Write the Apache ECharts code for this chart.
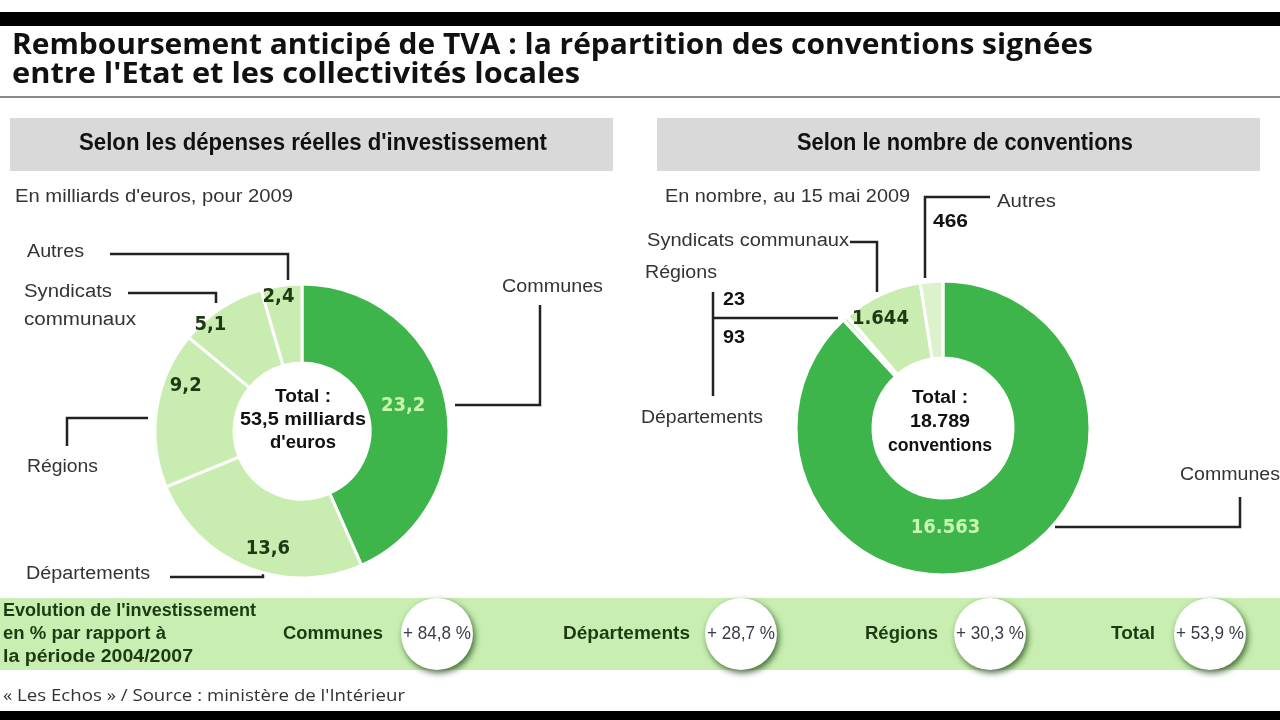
<!DOCTYPE html>
<html>
<head>
<meta charset="utf-8">
<script src="https://cdn.jsdelivr.net/npm/echarts@6/dist/echarts.min.js"></script>
<style>
html,body{margin:0;padding:0;background:#fff;}
#chart{width:1280px;height:720px;}
</style>
</head>
<body>
<div id="chart"></div>
<script>
// ---- data ----
var depCategories = ['Communes', 'Départements', 'Régions', 'Syndicats communaux', 'Autres'];
var depValues = [23.2, 13.6, 9.2, 5.1, 2.4];            // milliards d'euros, 2009
var convCategories = ['Communes', 'Départements', 'Régions', 'Syndicats communaux', 'Autres'];
var convValues = [16563, 93, 23, 1644, 466];            // nombre de conventions, 15 mai 2009
var evoCategories = ['Communes', 'Départements', 'Régions', 'Total'];
var evoValues = [84.8, 28.7, 30.3, 53.9];               // % vs 2004/2007

// ---- styles ----
var DARK = '#3db54a', LIGHT = '#c9ecb1', PALE = '#dcf2cd';
var SANS = "'Liberation Sans','Arial',sans-serif";
var COND = "'DejaVu Sans Condensed','Liberation Sans Narrow',sans-serif";
var HUMAN = "'Open Sans','Lato',sans-serif";
var LINE = '#222';

function fr1(v){ return v.toFixed(1).replace('.', ','); }
function frInt(v){ return String(v).replace(/\B(?=(\d{3})+(?!\d))/g, '.'); }
function sum(a){ return a.reduce(function(s,v){return s+v;},0); }

var mctx = document.createElement('canvas').getContext('2d');

var chart = echarts.init(document.getElementById('chart'), null, {renderer:'canvas'});

// text helper: o.w = target rendered width (px) -> horizontal scale
function txt(x,y,t,o){
  o = o || {};
  var font = (o.weight||'normal')+' '+(o.size||18)+'px '+(o.family||SANS);
  var sx = o.sx || 0.82;
  if(o.w){ mctx.font = font; sx = o.w / mctx.measureText(t).width; }
  return {type:'text', x:x, y:y, scaleX:sx, silent:true, style:{text:t, fill:o.fill||'#333',
    font:font, textAlign:o.align||'left', textVerticalAlign:'middle'}};
}
function pl(points){
  return {type:'polyline', silent:true, shape:{points:points}, style:{stroke:LINE, lineWidth:2.5, fill:null}};
}
var B = {weight:'bold', fill:'#111'};
function ext(a,b){ var r={}; for(var k in a) r[k]=a[k]; for(var k2 in b) r[k2]=b[k2]; return r; }

var g = [];
// frame bars
g.push({type:'rect', shape:{x:0,y:12,width:1280,height:14}, style:{fill:'#000'}});
g.push({type:'rect', shape:{x:0,y:711,width:1280,height:9}, style:{fill:'#000'}});
// title
g.push(txt(12,46,'Remboursement anticipé de TVA : la répartition des conventions signées',{weight:'bold',size:28,family:HUMAN,fill:'#111',w:1081}));
g.push(txt(12,75,"entre l'Etat et les collectivités locales",{weight:'bold',size:28,family:HUMAN,fill:'#111',w:568}));
g.push({type:'rect', shape:{x:0,y:96,width:1280,height:2}, style:{fill:'#8a8a8a'}});
// panel headers
g.push({type:'rect', shape:{x:10,y:118,width:603,height:53}, style:{fill:'#d9d9d9'}});
g.push({type:'rect', shape:{x:657,y:118,width:603,height:53}, style:{fill:'#d9d9d9'}});
g.push(txt(313,144,"Selon les dépenses réelles d'investissement",ext(B,{size:23,align:'center',w:468})));
g.push(txt(965,144,'Selon le nombre de conventions',ext(B,{size:23,align:'center',w:336})));
g.push(txt(15,197,"En milliards d'euros, pour 2009",{size:18,w:278}));
g.push(txt(665,197,'En nombre, au 15 mai 2009',{size:18,w:245}));

// left leader lines & names
g.push(pl([[110,254],[288,254],[288,280]]));
g.push(txt(27,252,depCategories[4],{w:57}));
g.push(pl([[128,293],[216,293],[216,303]]));
g.push(txt(24,292,'Syndicats',{w:88}));
g.push(txt(24,320,'communaux',{w:112}));
g.push(pl([[148,418],[67,418],[67,446]]));
g.push(txt(27,467,depCategories[2],{w:71}));
g.push(pl([[170,577],[263,577],[263,571]]));
g.push(txt(26,574,depCategories[1],{w:124}));
g.push(pl([[455,405],[540,405],[540,305]]));
g.push(txt(502,287,depCategories[0],{w:101}));
// left center total
g.push(txt(303,397,'Total :',ext(B,{align:'center',w:56})));
g.push(txt(303,420,fr1(sum(depValues))+' milliards',ext(B,{align:'center',w:126})));
g.push(txt(303,443,"d'euros",ext(B,{align:'center',w:66})));

// right leader lines & names
g.push(pl([[925,278],[925,197],[990,197]]));
g.push(txt(997,202,convCategories[4],{w:59}));
g.push(txt(933,222,frInt(convValues[4]),ext(B,{w:35})));
g.push(pl([[850,242],[877,242],[877,292]]));
g.push(txt(647,241,convCategories[3],{w:202}));
g.push(txt(645,273,convCategories[2],{w:72}));
g.push(txt(723,300,frInt(convValues[2]),ext(B,{w:22})));
g.push(txt(723,338,frInt(convValues[1]),ext(B,{w:22})));
g.push(pl([[713,292],[713,396]]));
g.push(pl([[713,318],[838,318]]));
g.push(txt(641,418,convCategories[1],{w:122}));
g.push(pl([[1055,527],[1240,527],[1240,497]]));
g.push(txt(1180,475,convCategories[0],{w:100}));
// right center total
g.push(txt(940,398,'Total :',ext(B,{align:'center',w:56})));
g.push(txt(940,422,frInt(sum(convValues)),ext(B,{align:'center',w:60})));
g.push(txt(940,446,'conventions',ext(B,{align:'center',w:104})));

// bottom band
var GREEN_TXT = '#1d3a12';
g.push({type:'rect', shape:{x:0,y:598,width:1280,height:72}, style:{fill:'#c8efb1'}});
g.push(txt(3,611,"Evolution de l'investissement",{weight:'bold',fill:GREEN_TXT,w:253}));
g.push(txt(3,634,'en % par rapport à',{weight:'bold',fill:GREEN_TXT,w:163}));
g.push(txt(3,657,'la période 2004/2007',{weight:'bold',fill:GREEN_TXT,w:190}));
var evoLabelRight = [383, 690, 938, 1155];
var evoLabelW = [100, 127, 73, 44];
var evoCircleX = [437, 741, 990, 1210];
evoCategories.forEach(function(c,i){
  g.push(txt(evoLabelRight[i],634,c,{weight:'bold',size:19,align:'right',fill:GREEN_TXT,w:evoLabelW[i]}));
  g.push({type:'circle', silent:true, shape:{cx:evoCircleX[i],cy:634,r:36},
    style:{fill:'#fff', shadowColor:'rgba(20,60,10,0.75)', shadowBlur:6, shadowOffsetX:2, shadowOffsetY:3}});
  g.push(txt(evoCircleX[i],634,'+ '+fr1(evoValues[i])+' %',{size:19,align:'center',fill:'#3a3a4a',w:68}));
});
// footer
g.push(txt(3,696,"« Les Echos » / Source : ministère de l'Intérieur",{size:17,family:HUMAN,fill:'#333',w:402}));

var depNudge = [[-7,-2],[7,15],[-7,-29],[-31,-14],[-8,-25]];
var convNudge = [[-38,-4],[0,0],[0,0],[-16,-8],[0,0]];

var option = {
  backgroundColor:'#fff',
  animation:false,
  graphic: g,
  series:[
    {
      type:'pie', center:[302,431], radius:[68,147], startAngle:90, clockwise:true,
      silent:true, z:1,
      itemStyle:{borderColor:'#fff', borderWidth:3},
      label:{show:true, position:'inside', formatter:function(p){return fr1(p.value);},
        fontFamily:COND, fontWeight:'bold', fontSize:20, color:'#1d3a12'},
      labelLine:{show:false},
      labelLayout:function(p){ var n=depNudge[p.dataIndex]; return {dx:n[0], dy:n[1]}; },
      data: depCategories.map(function(c,i){
        var d = {name:c, value:depValues[i], itemStyle:{color: i===0?DARK:LIGHT}};
        if(i===0) d.label = {color:'#c8f5b0'};
        return d;
      })
    },
    {
      type:'pie', center:[943,428], radius:[70,147], startAngle:90, clockwise:true,
      silent:true, z:1,
      itemStyle:{borderColor:'#fff', borderWidth:3},
      label:{show:true, position:'inside', formatter:function(p){return frInt(p.value);},
        fontFamily:COND, fontWeight:'bold', fontSize:20, color:'#1d3a12'},
      labelLine:{show:false},
      labelLayout:function(p){ var n=convNudge[p.dataIndex]; return {dx:n[0], dy:n[1]}; },
      data: convCategories.map(function(c,i){
        var col = i===0?DARK:(i===4?PALE:LIGHT);
        var d = {name:c, value:convValues[i], itemStyle:{color:col}};
        if(i===0) d.label = {color:'#c8f5b0'};
        if(i===1||i===2||i===4) d.label = {show:false};
        return d;
      })
    }
  ]
};
chart.setOption(option);
</script>
</body>
</html>
